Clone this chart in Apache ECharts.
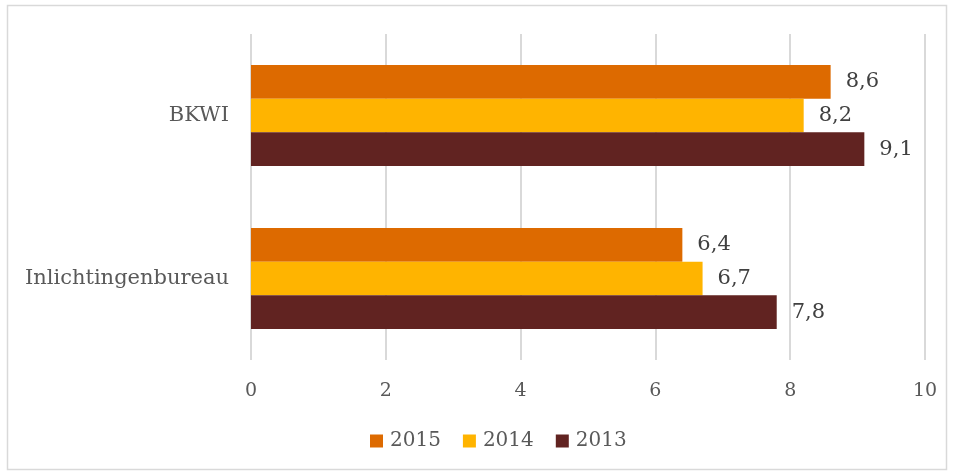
<!DOCTYPE html>
<html>
<head>
<meta charset="utf-8">
<script src="https://cdn.jsdelivr.net/npm/echarts@6/dist/echarts.min.js"></script>
<style>
html,body{margin:0;padding:0;background:#fff;}
#chart{width:953px;height:475px;}
</style>
</head>
<body>
<div id="chart"></div>
<script>
const categories = ['BKWI', 'Inlichtingenbureau'];
const seriesNames = ['2015', '2014', '2013'];
const values2015 = [8.6, 6.4];
const values2014 = [8.2, 6.7];
const values2013 = [9.1, 7.8];
const xTicks = [0, 2, 4, 6, 8, 10];

const colors = ['#DD6A00', '#FFB400', '#612321'];
const font = '"DejaVu Serif", "Liberation Serif", serif';
const textColor = '#595959';

const chart = echarts.init(document.getElementById('chart'));
const dataSets = [values2015, values2014, values2013];

chart.setOption({
  animation: false,
  color: colors,
  textStyle: { fontFamily: font },
  graphic: [{
    type: 'rect',
    shape: { x: 7.5, y: 5.5, width: 939, height: 464 },
    style: { fill: 'none', stroke: '#d9d9d9', lineWidth: 1.5 },
    silent: true
  }],
  grid: { left: 251, right: 28, top: 34, bottom: 115, containLabel: false },
  legend: {
    data: seriesNames,
    bottom: 19,
    left: 365,
    itemWidth: 13,
    itemHeight: 13,
    itemGap: 22,
    icon: 'rect',
    textStyle: { fontFamily: font, fontSize: 20, color: textColor, padding: [0, 0, 0, 2] }
  },
  xAxis: {
    type: 'value',
    min: 0,
    max: 10,
    interval: 2,
    axisLine: { show: false },
    axisTick: { show: false },
    splitLine: { show: true, lineStyle: { color: '#d9d9d9', width: 2 } },
    axisLabel: {
      fontFamily: font, fontSize: 19, color: textColor, margin: 22,
      formatter: v => xTicks.includes(v) ? String(v) : ''
    }
  },
  yAxis: {
    type: 'category',
    data: categories,
    inverse: true,
    axisLine: { show: false },
    axisTick: { show: false },
    axisLabel: { fontFamily: font, fontSize: 21, color: textColor, margin: 22 }
  },
  series: seriesNames.map((name, i) => ({
    name: name,
    type: 'bar',
    data: dataSets[i],
    barGap: '0%',
    barCategoryGap: '38%',
    itemStyle: { color: colors[i] },
    label: {
      show: true,
      position: 'right',
      distance: 15,
      fontFamily: font,
      fontSize: 21,
      color: '#404040',
      formatter: p => String(p.value).replace('.', ',')
    }
  }))
});
</script>
</body>
</html>
